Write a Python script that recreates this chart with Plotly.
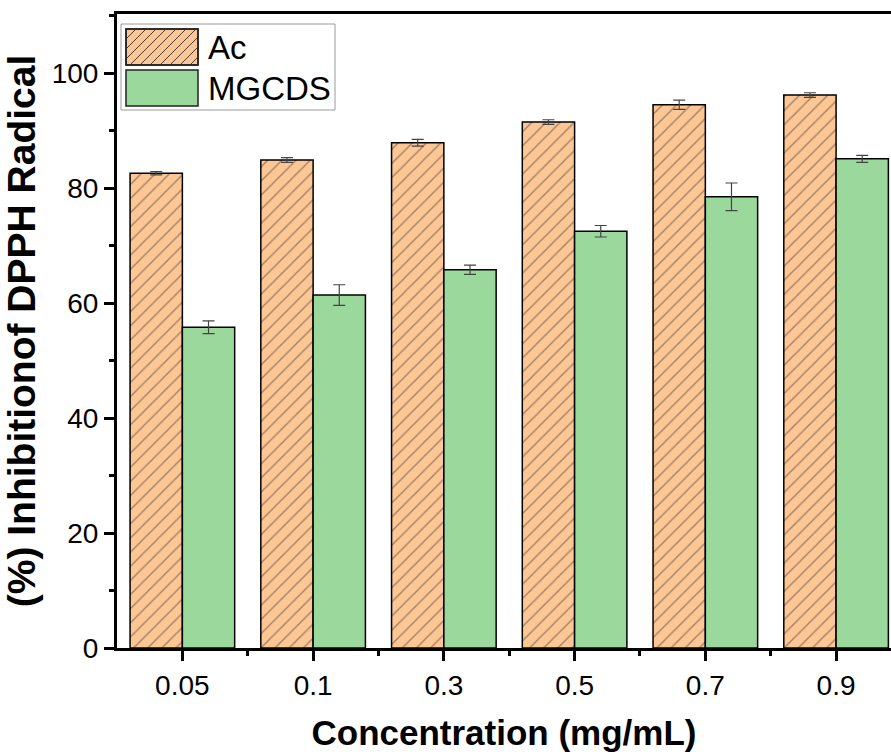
import plotly.graph_objects as go

# ---- data ----
categories = ["0.05", "0.1", "0.3", "0.5", "0.7", "0.9"]
ac_values = [82.6, 84.9, 87.9, 91.5, 94.5, 96.2]
ac_errors = [0.3, 0.4, 0.6, 0.4, 0.8, 0.4]
mg_values = [55.8, 61.4, 65.8, 72.5, 78.5, 85.1]
mg_errors = [1.1, 1.8, 0.8, 1.0, 2.4, 0.6]
y_ticks = [0, 20, 40, 60, 80, 100]
series_names = ["Ac", "MGCDS"]

ORANGE = "#FDC795"
GREEN = "#9BD89C"
HATCH = "#4a3c30"
FONT = "Liberation Sans, Arial, sans-serif"

W, H = 891, 752
ML, MR, MT, MB = 117, 0, 14, 104
PW, PH = W - ML - MR, H - MT - MB

xpos = list(range(len(categories)))

fig = go.Figure()
fig.add_trace(go.Bar(
    x=xpos, y=ac_values, name=series_names[0],
    marker=dict(color=ORANGE, line=dict(color="black", width=1.5),
                pattern=dict(shape="/", size=10, solidity=0.14,
                             fgcolor=HATCH, bgcolor=ORANGE, fillmode="overlay")),
    error_y=dict(type="data", array=ac_errors, visible=True,
                 color="#444444", thickness=1.2, width=6),
    showlegend=False,
))
fig.add_trace(go.Bar(
    x=xpos, y=mg_values, name=series_names[1],
    marker=dict(color=GREEN, line=dict(color="black", width=1.5)),
    error_y=dict(type="data", array=mg_errors, visible=True,
                 color="#444444", thickness=1.2, width=6),
    showlegend=False,
))

# ---- custom legend (pixel helpers) ----
def px(x):
    return (x - ML) / PW

def py(y):
    return (H - MB - y) / PH

shapes = []
shapes.append(dict(type="rect", xref="paper", yref="paper",
                   x0=px(121), x1=px(335), y0=py(110), y1=py(24),
                   line=dict(color="#9a9a9a", width=1), fillcolor="white", layer="above"))
sw = [(126, 29, 198, 65, ORANGE), (126, 70, 198, 106, GREEN)]
for (x0, y0, x1, y1, col) in sw:
    shapes.append(dict(type="rect", xref="paper", yref="paper",
                       x0=px(x0), x1=px(x1), y0=py(y1), y1=py(y0),
                       line=dict(color="#222222", width=1.5), fillcolor=col, layer="above"))

x0, y0, x1, y1 = 126, 29, 198, 65
h = y1 - y0
path = ""
t = x0 - h
while t < x1:
    ax, ay = t, y1
    bx, by = t + h, y0
    if ax < x0:
        ay = ay - (x0 - ax)
        ax = x0
    if bx > x1:
        by = by + (bx - x1)
        bx = x1
    if bx > ax:
        path += f"M{px(ax)},{py(ay)} L{px(bx)},{py(by)} "
    t += 10
shapes.append(dict(type="path", xref="paper", yref="paper", path=path,
                   line=dict(color=HATCH, width=1), layer="above"))
shapes.append(dict(type="rect", xref="paper", yref="paper",
                   x0=px(x0), x1=px(x1), y0=py(y1), y1=py(y0),
                   line=dict(color="#222222", width=1.5), layer="above"))

annotations = [
    dict(text=series_names[0], xref="paper", yref="paper", x=px(206), y=py(47),
         xanchor="left", yanchor="middle", showarrow=False,
         font=dict(family=FONT, size=33, color="black")),
    dict(text=series_names[1], xref="paper", yref="paper", x=px(206), y=py(88),
         xanchor="left", yanchor="middle", showarrow=False,
         font=dict(family=FONT, size=33, color="black")),
]

fig.update_layout(
    width=W, height=H,
    margin=dict(l=ML, r=MR, t=MT, b=MB, pad=0),
    paper_bgcolor="white", plot_bgcolor="white",
    barmode="group", bargap=0.2, bargroupgap=0,
    font=dict(family=FONT, color="black"),
    shapes=shapes, annotations=annotations,
    xaxis=dict(
        range=[-0.5, 5.42], tickmode="array", tickvals=xpos, ticktext=categories,
        showline=True, linecolor="black", linewidth=3, mirror=True,
        ticks="outside", ticklen=10, tickwidth=3, tickcolor="black",
        tickfont=dict(family=FONT, size=28, color="black"),
        minor=dict(tickmode="array", tickvals=[v + 0.5 for v in xpos],
                   ticks="outside", ticklen=5, tickwidth=3, tickcolor="black"),
        showgrid=False, zeroline=False,
        title=dict(text="<b>Concentration (mg/mL)</b>", standoff=24,
                   font=dict(family=FONT, size=35, color="black")),
    ),
    yaxis=dict(
        range=[0, 110.3], tickmode="array", tickvals=y_ticks,
        showline=True, linecolor="black", linewidth=3, mirror=False,
        ticks="outside", ticklen=10, tickwidth=3, tickcolor="black",
        tickfont=dict(family=FONT, size=28, color="black"),
        minor=dict(tickmode="linear", tick0=10, dtick=20,
                   ticks="outside", ticklen=5, tickwidth=3, tickcolor="black"),
        showgrid=False, zeroline=False,
        title=dict(text="<b>(%) Inhibitionof DPPH Radical</b>", standoff=13,
                   font=dict(family=FONT, size=39, color="black")),
    ),
)

fig.write_html("out.html")
